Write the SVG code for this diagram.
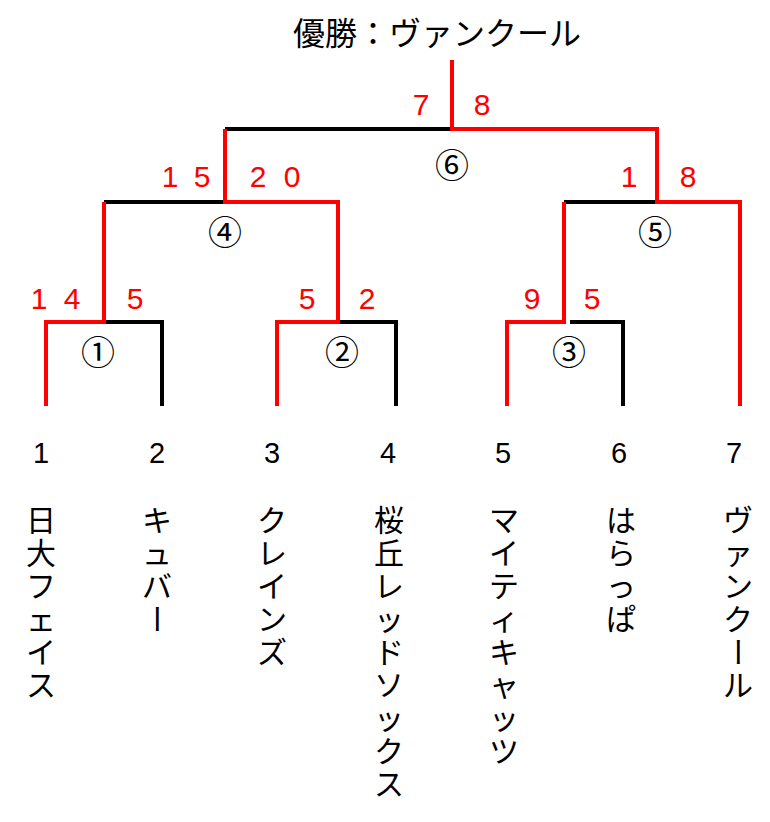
<svg xmlns="http://www.w3.org/2000/svg" width="770" height="822" viewBox="0 0 770 822">
<style>
.bk{fill:none;stroke:#000;stroke-width:4;stroke-linejoin:miter}
.rd{fill:none;stroke:#ff0000;stroke-width:4;stroke-linejoin:miter}
.sc{font-family:"Liberation Sans",Arial,sans-serif;font-size:30px;fill:#ff0000}
.num{font-family:"Liberation Sans",Arial,sans-serif;font-size:29px;fill:#000;text-anchor:middle}
.cir{font-family:"Noto Sans CJK JP",sans-serif;font-size:34px;fill:#000;text-anchor:middle}
.nm{font-family:"Noto Sans CJK JP",sans-serif;font-size:30px;fill:#000}
.ttl{font-family:"Noto Sans CJK JP",sans-serif;font-size:32px;fill:#000;text-anchor:middle}
</style>
<rect width="770" height="822" fill="#fff"/>
<g id="title"><text class="ttl" x="437" y="45">優勝：ヴァンクール</text></g>
<g id="connectors">
<polyline class="bk" points="225,129 452,129"/>
<polyline class="bk" points="104,202 225,202"/>
<polyline class="bk" points="564,202 656,202"/>
<polyline class="bk" points="104,322 162,322 162,406"/>
<polyline class="bk" points="338,322 396,322 396,406"/>
<polyline class="bk" points="570,322 623,322 623,406"/>
<polyline class="rd" points="452,60 452,129 657,129 657,202 740,202 740,406"/>
<polyline class="rd" points="225,129 225,202 338,202 338,322 277,322 277,406"/>
<polyline class="rd" points="104,202 104,322 46,322 46,406"/>
<polyline class="rd" points="564,202 564,322 507,322 507,406"/>
</g>
<g id="match6"><text class="cir" x="452" y="178">⑥</text>
<text class="sc" x="421" y="115" text-anchor="middle">7</text><text class="sc" x="482" y="115" text-anchor="middle">8</text></g>
<g id="match4"><text class="cir" x="225" y="245">④</text>
<text class="sc" x="161.7" y="187" letter-spacing="15.3">15</text><text class="sc" x="249.7" y="187" letter-spacing="17.3">20</text></g>
<g id="match5"><text class="cir" x="655" y="245">⑤</text>
<text class="sc" x="629" y="187" text-anchor="middle">1</text><text class="sc" x="688" y="187" text-anchor="middle">8</text></g>
<g id="match1"><text class="cir" x="98" y="365">①</text>
<text class="sc" x="30.7" y="309" letter-spacing="16.3">14</text><text class="sc" x="135" y="309" text-anchor="middle">5</text></g>
<g id="match2"><text class="cir" x="342" y="365">②</text>
<text class="sc" x="307" y="309" text-anchor="middle">5</text><text class="sc" x="367" y="309" text-anchor="middle">2</text></g>
<g id="match3"><text class="cir" x="569" y="365">③</text>
<text class="sc" x="532" y="309" text-anchor="middle">9</text><text class="sc" x="592" y="309" text-anchor="middle">5</text></g>
<g id="team1"><text class="num" x="41" y="463">1</text>
<text class="nm"><tspan x="26" y="531">日</tspan><tspan x="26" y="564">大</tspan><tspan x="26" y="597">フ</tspan><tspan x="26" y="630">ェ</tspan><tspan x="26" y="663">イ</tspan><tspan x="26" y="696">ス</tspan></text></g>
<g id="team2"><text class="num" x="157" y="463">2</text>
<text class="nm"><tspan x="142" y="531">キ</tspan><tspan x="142" y="564">ュ</tspan><tspan x="142" y="597">バ</tspan><tspan x="145.6" y="604" rotate="90">ー</tspan></text></g>
<g id="team3"><text class="num" x="272" y="463">3</text>
<text class="nm"><tspan x="257" y="531">ク</tspan><tspan x="257" y="564">レ</tspan><tspan x="257" y="597">イ</tspan><tspan x="257" y="630">ン</tspan><tspan x="257" y="663">ズ</tspan></text></g>
<g id="team4"><text class="num" x="388" y="463">4</text>
<text class="nm"><tspan x="374" y="531">桜</tspan><tspan x="374" y="564">丘</tspan><tspan x="374" y="597">レ</tspan><tspan x="374" y="630">ッ</tspan><tspan x="374" y="663">ド</tspan><tspan x="374" y="696">ソ</tspan><tspan x="374" y="729">ッ</tspan><tspan x="374" y="762">ク</tspan><tspan x="374" y="795">ス</tspan></text></g>
<g id="team5"><text class="num" x="503" y="463">5</text>
<text class="nm"><tspan x="489" y="531">マ</tspan><tspan x="489" y="564">イ</tspan><tspan x="489" y="597">テ</tspan><tspan x="489" y="630">ィ</tspan><tspan x="489" y="663">キ</tspan><tspan x="489" y="696">ャ</tspan><tspan x="489" y="729">ッ</tspan><tspan x="489" y="762">ツ</tspan></text></g>
<g id="team6"><text class="num" x="619" y="463">6</text>
<text class="nm"><tspan x="606" y="531">は</tspan><tspan x="606" y="564">ら</tspan><tspan x="606" y="597">っ</tspan><tspan x="606" y="630">ぱ</tspan></text></g>
<g id="team7"><text class="num" x="734" y="463">7</text>
<text class="nm"><tspan x="723" y="531">ヴ</tspan><tspan x="723" y="564">ァ</tspan><tspan x="723" y="597">ン</tspan><tspan x="723" y="630">ク</tspan><tspan x="726.6" y="637" rotate="90">ー</tspan><tspan x="723" y="696">ル</tspan></text></g>
</svg>
